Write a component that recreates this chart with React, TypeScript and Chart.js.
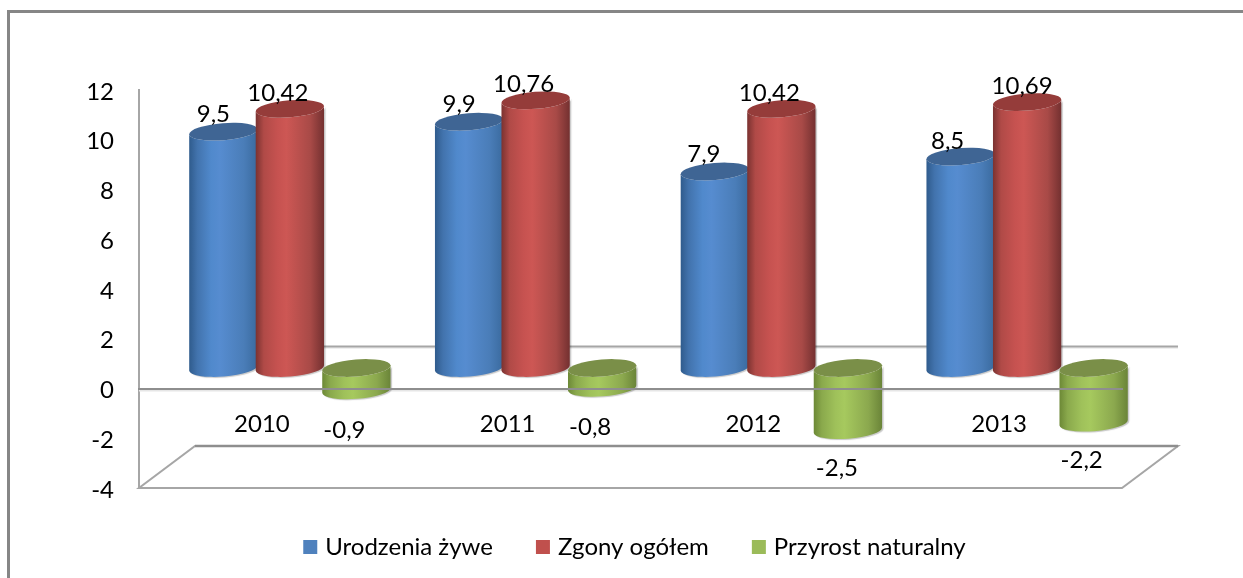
import React, { useEffect, useRef } from "react";
import { Chart, registerables } from "chart.js";

Chart.register(...registerables);

const years = ["2010", "2011", "2012", "2013"];
const births = [9.5, 9.9, 7.9, 8.5];
const deaths = [10.42, 10.76, 10.42, 10.69];
const growth = [-0.9, -0.8, -2.5, -2.2];
const seriesNames = ["Urodzenia żywe", "Zgony ogółem", "Przyrost naturalny"];
const yMin = -4;
const yMax = 12;
const yStep = 2;

const FONT = "Lato, Carlito, Calibri, sans-serif";
const FONT_SIZE = 24;
const DEPTH_X = 56;
const DEPTH_Y = -42;
const BAR_SHIFT_Y = -20.5;
const LINE = "#a6a6a6";

const swatches = ["#4f81bd", "#c0504d", "#9bbb59"];
const shades = [
  { stops: ["#2f5b8c", "#4273ad", "#5089cc", "#568cd0", "#4a7db8", "#3a6a9e"], cap: "#3f6594" },
  { stops: ["#7a3230", "#b04a47", "#c65250", "#cd5754", "#a84a47", "#733030"], cap: "#953c3a" },
  { stops: ["#6c8836", "#8aa94c", "#9fc15a", "#a6c95e", "#8ba84e", "#6a8438"], cap: "#7a8f48" },
];
const stopAt = [0, 0.12, 0.32, 0.45, 0.8, 1];

// hand-placed data label offsets from each cylinder's end: [dx, dy]
const labelOffsets = [
  [[-10, -17], [-10, -17], [-11, -17], [-13, -15]],
  [[-12, -16], [-12, -16], [-12, -16], [-5, -16]],
  [[-12, 40], [-12, 39], [-11, 38], [-12, 38]],
];

const cylinderPlugin = {
  id: "cylinders",
  beforeDraw(chart: any) {
    const { ctx, width, height } = chart;
    ctx.save();
    ctx.fillStyle = "#ffffff";
    ctx.fillRect(0, 0, width, height);
    ctx.fillStyle = "#868686";
    ctx.fillRect(7, 10, width - 7, 3);
    ctx.fillRect(7, 10, 3, height - 10);
    ctx.restore();
  },
  beforeDatasetsDraw(chart: any) {
    const { ctx, chartArea, scales } = chart;
    const y = scales.y;
    const { left, right } = chartArea;
    const zero = y.getPixelForValue(0);
    const floor = y.getPixelForValue(yMin);

    ctx.save();
    // soft shadows of the base lines
    ctx.strokeStyle = "#e6e6e6";
    ctx.lineWidth = 2;
    ctx.beginPath();
    ctx.moveTo(left, zero + 2);
    ctx.lineTo(right, zero + 2);
    ctx.stroke();
    ctx.strokeStyle = "#efefef";
    ctx.beginPath();
    ctx.moveTo(left + DEPTH_X, zero + DEPTH_Y + 1.5);
    ctx.lineTo(right + DEPTH_X, zero + DEPTH_Y + 1.5);
    ctx.stroke();
    // back wall base line
    ctx.strokeStyle = LINE;
    ctx.beginPath();
    ctx.moveTo(left + DEPTH_X, zero + DEPTH_Y);
    ctx.lineTo(right + DEPTH_X, zero + DEPTH_Y);
    ctx.stroke();
    // floor
    ctx.beginPath();
    ctx.moveTo(left, floor);
    ctx.lineTo(right, floor);
    ctx.lineTo(right + DEPTH_X, floor + DEPTH_Y);
    ctx.lineTo(left + DEPTH_X, floor + DEPTH_Y);
    ctx.closePath();
    ctx.stroke();
    ctx.strokeStyle = "#8e8e8e";
    ctx.lineWidth = 2.5;
    ctx.beginPath();
    ctx.moveTo(left + DEPTH_X, floor + DEPTH_Y);
    ctx.lineTo(right + DEPTH_X, floor + DEPTH_Y);
    ctx.stroke();

    // cylinders stand half way into the depth
    const ox = DEPTH_X / 2;
    const oy = BAR_SHIFT_Y;
    const tilt = (-4.5 * Math.PI) / 180;
    const ry = 8.5;
    chart.data.datasets.forEach((_: any, di: number) => {
      const meta = chart.getDatasetMeta(di);
      const s = shades[di];
      meta.data.forEach((el: any) => {
        const cx = el.x + ox;
        const rx = el.width / 2 + 1;
        const top = Math.min(el.y, el.base) + oy;
        const bottom = Math.max(el.y, el.base) + oy;
        const g = ctx.createLinearGradient(cx - rx, 0, cx + rx, 0);
        s.stops.forEach((c, i) => g.addColorStop(stopAt[i], c));
        ctx.save();
        ctx.shadowColor = "rgba(0,0,0,0.22)";
        ctx.shadowOffsetX = 1.5;
        ctx.shadowOffsetY = 1;
        ctx.shadowBlur = 1;
        ctx.fillStyle = g;
        ctx.beginPath();
        ctx.ellipse(cx, top, rx, ry, tilt, Math.PI, 0, true);
        ctx.ellipse(cx, bottom, rx, ry, tilt, 0, Math.PI, false);
        ctx.closePath();
        ctx.fill();
        ctx.restore();
        ctx.fillStyle = s.cap;
        ctx.beginPath();
        ctx.ellipse(cx, top, rx, ry, tilt, 0, Math.PI * 2);
        ctx.fill();
      });
    });

    // data labels
    ctx.fillStyle = "#000000";
    ctx.font = `${FONT_SIZE}px ${FONT}`;
    ctx.textAlign = "center";
    ctx.textBaseline = "middle";
    chart.data.datasets.forEach((ds: any, di: number) => {
      const meta = chart.getDatasetMeta(di);
      meta.data.forEach((el: any, i: number) => {
        const [dx, dy] = labelOffsets[di][i];
        ctx.fillText(
          String(ds.data[i]).replace(".", ","),
          el.x + ox + dx,
          el.y + oy + dy
        );
      });
    });

    // legend
    const gap = 43;
    const box = 14;
    const textGap = 8;
    const widths = seriesNames.map((n) => ctx.measureText(n).width);
    const total =
      widths.reduce((a: number, b: number) => a + b, 0) +
      seriesNames.length * (box + textGap) +
      gap * (seriesNames.length - 1);
    let x = 634.5 - total / 2;
    const ly = 547;
    ctx.textAlign = "left";
    seriesNames.forEach((n, i) => {
      ctx.fillStyle = swatches[i];
      ctx.fillRect(x, ly - box / 2, box, box);
      ctx.fillStyle = "#000000";
      ctx.fillText(n, x + box + textGap, ly);
      x += box + textGap + widths[i] + gap;
    });
    ctx.restore();
    return false;
  },
};

export default function App() {
  const ref = useRef<HTMLCanvasElement>(null);
  useEffect(() => {
    const chart = new Chart(ref.current as HTMLCanvasElement, {
      type: "bar",
      data: {
        labels: years,
        datasets: [
          { label: seriesNames[0], data: births, backgroundColor: swatches[0] },
          { label: seriesNames[1], data: deaths, backgroundColor: swatches[1] },
          { label: seriesNames[2], data: growth, backgroundColor: swatches[2] },
        ],
      },
      plugins: [cylinderPlugin],
      options: {
        responsive: false,
        animation: false,
        layout: { padding: { left: 0, top: 90, right: 121, bottom: 90 } },
        datasets: { bar: { barPercentage: 1, categoryPercentage: 0.812 } },
        plugins: {
          legend: { display: false },
          tooltip: { enabled: false },
          title: { display: false },
        },
        scales: {
          x: {
            position: { y: 0 },
            grid: { display: false },
            border: { display: true, color: "#8e8e8e", width: 2, z: 2 },
            ticks: {
              padding: 13,
              color: "#000000",
              font: { family: FONT, size: FONT_SIZE },
              maxRotation: 0,
            },
            afterFit: (s: any) => {
              s.height = 0;
            },
          },
          y: {
            min: yMin,
            max: yMax,
            grid: { display: false },
            border: { display: true, color: LINE, width: 2 },
            ticks: {
              stepSize: yStep,
              padding: 17,
              labelOffset: 2,
              color: "#000000",
              font: { family: FONT, size: FONT_SIZE },
              callback: (v: any) => String(v),
            },
            afterFit: (s: any) => {
              s.width = 139;
            },
          },
        },
      },
    } as any);
    return () => chart.destroy();
  }, []);
  return (
    <div style={{ position: "absolute", left: 0, top: 0, width: 1243, height: 578 }}>
      <canvas ref={ref} width={1243} height={578} style={{ display: "block" }} />
    </div>
  );
}
